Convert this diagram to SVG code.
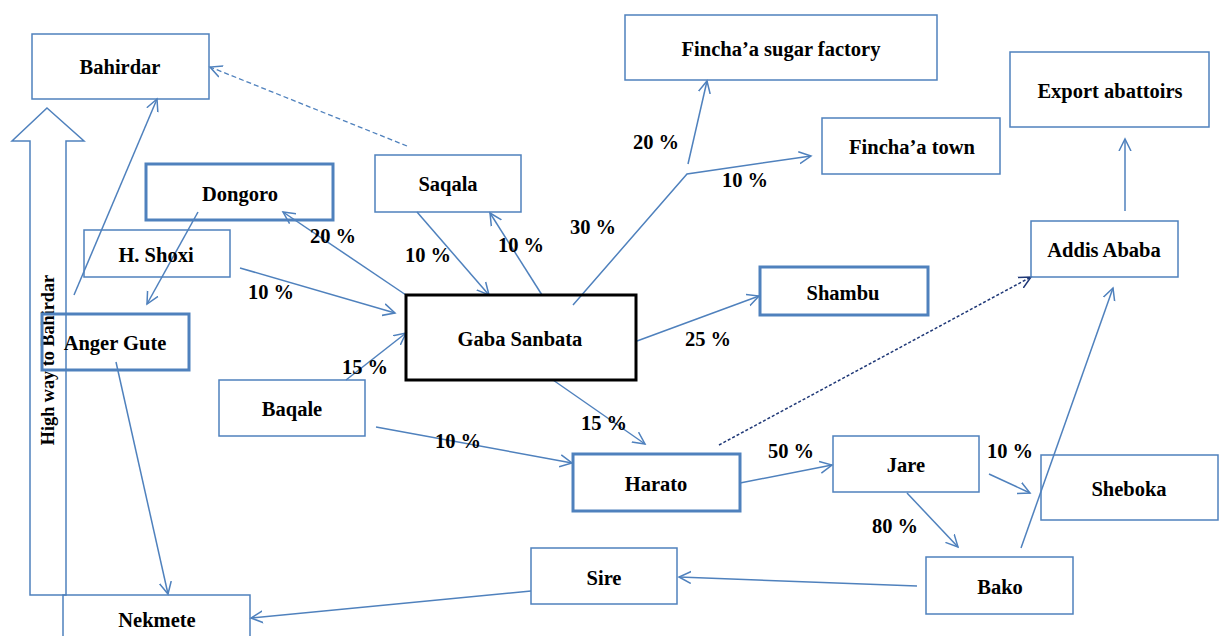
<svg xmlns="http://www.w3.org/2000/svg" width="1219" height="636" viewBox="0 0 1219 636">
<style>
.box{fill:none;stroke:#4f81bd;stroke-width:1.5}
.thick{fill:none;stroke:#4f81bd;stroke-width:3}
.main{fill:none;stroke:#000;stroke-width:3}
text{font-family:'Liberation Serif','DejaVu Serif',serif;font-weight:bold;font-size:20.5px;fill:#000;text-anchor:middle;dominant-baseline:central}
.c{fill:none;stroke:#4f81bd;stroke-width:1.5;marker-end:url(#ah)}
.cd{fill:none;stroke:#4f81bd;stroke-width:1.3;stroke-dasharray:5,3;marker-end:url(#ah)}
.cn{fill:none;stroke:#1f3877;stroke-width:1.5;stroke-dasharray:3,2;marker-end:url(#ahn)}
</style>
<defs>
<marker id="ah" markerUnits="userSpaceOnUse" markerWidth="14" markerHeight="14" refX="12" refY="6" orient="auto" viewBox="0 0 14 12">
<path d="M0,0 L12,6 L0,12" fill="none" stroke="#4f81bd" stroke-width="1.5"/>
</marker>
<marker id="ahn" markerUnits="userSpaceOnUse" markerWidth="14" markerHeight="14" refX="12" refY="6" orient="auto" viewBox="0 0 14 12">
<path d="M0,0 L12,6 L0,12" fill="none" stroke="#1f3877" stroke-width="1.5"/>
</marker>
</defs>
<rect width="1219" height="636" fill="#fff"/>

<g id="highway">
<polygon points="47,108 84,141 66,141 66,595 30,595 30,141 12,141" fill="none" stroke="#4f81bd" stroke-width="1.5"/>
<text style="font-size:18.2px" transform="translate(48,360) rotate(-90)">High way to Bahirdar</text>
</g>

<g id="connectors">
<line class="cd" x1="407" y1="146" x2="210" y2="67"/>
<line class="c" x1="74" y1="295" x2="157" y2="99"/>
<line class="c" x1="198" y1="212" x2="147" y2="304"/>
<line class="c" x1="406" y1="295" x2="283" y2="212"/>
<line class="c" x1="240" y1="268" x2="395" y2="313"/>
<line class="c" x1="417" y1="212" x2="489" y2="295"/>
<line class="c" x1="542" y1="295" x2="490" y2="213"/>
<polyline class="c" points="573,305 687,174 811,156"/>
<line class="c" x1="688" y1="164" x2="707" y2="81"/>
<line class="c" x1="637" y1="341" x2="759" y2="296"/>
<line class="c" x1="346" y1="380" x2="406" y2="333"/>
<line class="c" x1="376" y1="427" x2="572" y2="463"/>
<line class="c" x1="553" y1="380" x2="645" y2="444"/>
<line class="cn" x1="719" y1="445" x2="1031" y2="277"/>
<line class="c" x1="740" y1="483" x2="832" y2="465"/>
<line class="c" x1="989" y1="474" x2="1030" y2="493"/>
<line class="c" x1="907" y1="493" x2="958" y2="547"/>
<line class="c" x1="1021" y1="548" x2="1113" y2="288"/>
<line class="c" x1="1125" y1="211" x2="1125" y2="139"/>
<line class="c" x1="917" y1="586" x2="679" y2="577"/>
<line class="c" x1="531" y1="591" x2="251" y2="618"/>
<line class="c" x1="116" y1="362" x2="168" y2="594"/>
</g>

<g id="bahirdar"><rect class="box" x="32" y="34" width="177" height="65"/><text x="120" y="67">Bahirdar</text></g>
<g id="dongoro"><rect class="thick" x="146" y="164" width="187" height="56"/><text x="240" y="194">Dongoro</text></g>
<g id="hshoxi"><rect class="box" x="84" y="230" width="146" height="47"/><text x="156" y="255">H. Shoxi</text></g>
<g id="angergute"><rect class="thick" x="42" y="314" width="147" height="56"/><text x="115" y="343">Anger Gute</text></g>
<g id="saqala"><rect class="box" x="375" y="155" width="146" height="57"/><text x="448" y="184">Saqala</text></g>
<g id="gabasanbata"><rect class="main" x="406" y="295" width="230" height="85"/><text x="520" y="339">Gaba Sanbata</text></g>
<g id="baqale"><rect class="box" x="219" y="380" width="146" height="56"/><text x="292" y="409">Baqale</text></g>
<g id="nekmete"><rect class="box" x="63" y="595" width="187" height="50"/><text x="157" y="620">Nekmete</text></g>
<g id="finchasugar"><rect class="box" x="625" y="15" width="312" height="65"/><text x="781" y="49">Fincha’a sugar factory</text></g>
<g id="finchatown"><rect class="box" x="822" y="118" width="178" height="56"/><text x="912" y="147">Fincha’a town</text></g>
<g id="export"><rect class="box" x="1010" y="52" width="199" height="75"/><text x="1110" y="91">Export abattoirs</text></g>
<g id="addis"><rect class="box" x="1031" y="221" width="147" height="56"/><text x="1104" y="250">Addis Ababa</text></g>
<g id="shambu"><rect class="thick" x="760" y="267" width="168" height="48"/><text x="843" y="293">Shambu</text></g>
<g id="harato"><rect class="thick" x="573" y="454" width="167" height="57"/><text x="656" y="484">Harato</text></g>
<g id="jare"><rect class="box" x="833" y="436" width="146" height="56"/><text x="906" y="465">Jare</text></g>
<g id="sheboka"><rect class="box" x="1041" y="455" width="177" height="65"/><text x="1129" y="489">Sheboka</text></g>
<g id="bako"><rect class="box" x="926" y="557" width="147" height="57"/><text x="1000" y="587">Bako</text></g>
<g id="sire"><rect class="box" x="531" y="548" width="146" height="56"/><text x="604" y="578">Sire</text></g>

<g id="labels">
<text x="333" y="236">20 %</text>
<text x="271" y="292">10 %</text>
<text x="428" y="255">10 %</text>
<text x="521" y="245">10 %</text>
<text x="593" y="227">30 %</text>
<text x="656" y="142">20 %</text>
<text x="745" y="180">10 %</text>
<text x="708" y="339">25 %</text>
<text x="365" y="367">15 %</text>
<text x="458" y="441">10 %</text>
<text x="604" y="423">15 %</text>
<text x="791" y="451">50 %</text>
<text x="1010" y="451">10 %</text>
<text x="895" y="526">80 %</text>
</g>
</svg>
